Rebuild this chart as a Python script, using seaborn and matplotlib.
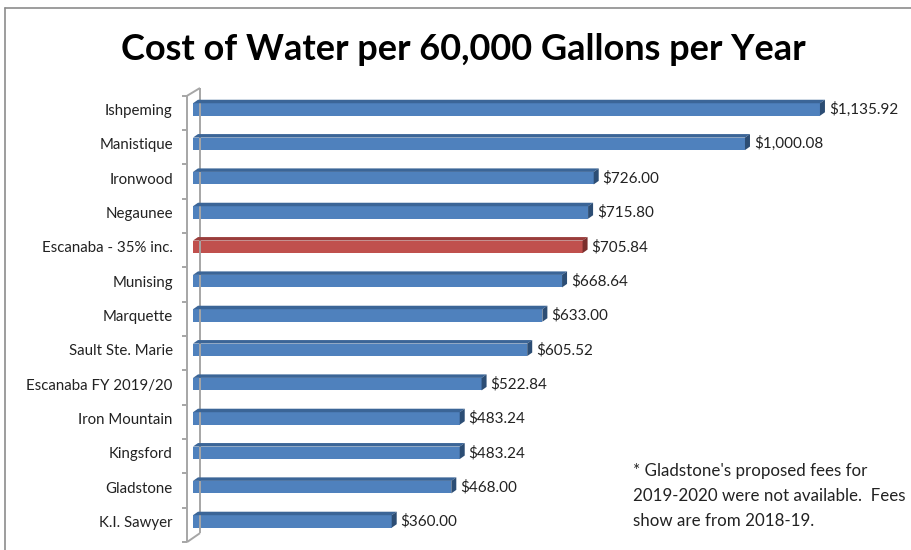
import matplotlib
matplotlib.use("Agg")
import matplotlib.pyplot as plt
import seaborn as sns
import pandas as pd
from matplotlib.patches import Polygon
from matplotlib.lines import Line2D

cities = ["Ishpeming", "Manistique", "Ironwood", "Negaunee", "Escanaba - 35% inc.",
          "Munising", "Marquette", "Sault Ste. Marie", "Escanaba FY 2019/20",
          "Iron Mountain", "Kingsford", "Gladstone", "K.I. Sawyer"]
costs = [1135.92, 1000.08, 726.00, 715.80, 705.84, 668.64, 633.00, 605.52,
         522.84, 483.24, 483.24, 468.00, 360.00]
highlight = "Escanaba - 35% inc."
title = "Cost of Water per 60,000 Gallons per Year"
note = "* Gladstone's proposed fees for\n2019-2020 were not available.  Fees\nshow are from 2018-19."

df = pd.DataFrame({"city": cities, "cost": costs})
df["grp"] = ["hi" if c == highlight else "base" for c in cities]

sns.set_theme(style="white")
plt.rcParams["font.family"] = ["Lato", "DejaVu Sans"]

W, H = 912, 550
fig = plt.figure(figsize=(W / 100, H / 100), dpi=100)
ax_left, ax_right, ax_top, ax_bot = 193, 905, 88, 537
ax = fig.add_axes([ax_left / W, 1 - ax_bot / H, (ax_right - ax_left) / W, (ax_bot - ax_top) / H])

front = {"base": "#4F81BD", "hi": "#C0504D"}
topc = {"base": "#3B6597", "hi": "#9A3D3B"}
sidec = {"base": "#2C4D74", "hi": "#7A2E2C"}

first_c, step = 109.5, 34.33
ymin = (ax_top - first_c) / step
ymax = (ax_bot - first_c) / step
xmax = 1290
px_x = xmax / (ax_right - ax_left)
px_y = (ymax - ymin) / (ax_bot - ax_top)

sns.barplot(data=df, y="city", x="cost", hue="grp", palette=front, orient="h",
            width=12.5 * px_y, dodge=False, legend=False, ax=ax, saturation=1)

ax.set_xlim(0, xmax)
ax.set_ylim(ymax, ymin)
dx, dy = 5 * px_x, 3.5 * px_y

for patch in ax.patches:
    w = patch.get_width()
    if w <= 0:
        continue
    y0 = patch.get_y()
    h = patch.get_height()
    yc = y0 + h / 2
    idx = int(round(yc))
    g = df["grp"].iloc[idx]
    patch.set_edgecolor("none")
    top = y0
    ax.add_patch(Polygon([(0, top), (dx, top - dy), (w + dx, top - dy), (w, top)],
                         closed=True, facecolor=topc[g], edgecolor="none", zorder=3))
    ax.add_patch(Polygon([(w, top), (w + dx, top - dy), (w + dx, top + h - dy), (w, top + h)],
                         closed=True, facecolor=sidec[g], edgecolor="none", zorder=3))
    ax.text(w + dx + 4 * px_x, yc, "${:,.2f}".format(costs[idx]),
            va="center", ha="left", fontsize=11, color="#222222")

# 3D wall lines
lc = "#A6A6A6"
fx, bx = -6 * px_x, 7 * px_x
top_front = -0.5 + 3.5 * px_y
bot_front = 12.5 + 3.5 * px_y
top_back = ymin
bot_back = bot_front - 9 * px_y
kw = dict(color=lc, lw=1.4, clip_on=False, zorder=1, solid_capstyle="butt")
ax.plot([bx, bx], [top_back, bot_back], **kw)
ax.plot([bx, fx], [bot_back, bot_front], **kw)
ax.plot([bx, fx], [top_back, top_front], **kw)
ax.plot([fx, fx], [top_front, bot_front], **kw)
for b in range(0, 14):
    yb = b - 0.5 + 3.5 * px_y
    ax.plot([fx - 5 * px_x, fx], [yb, yb], **kw)

for s in ax.spines.values():
    s.set_visible(False)
ax.set_xticks([])
ax.set_xlabel("")
ax.set_ylabel("")
ax.tick_params(axis="y", length=0, pad=14.5, labelsize=10.8, labelcolor="#222222")
for lab in ax.get_yticklabels():
    lab.set_y(lab.get_position()[1])

fig.text(463 / W, 1 - 50 / H, title, ha="center", va="center", fontsize=26,
         fontweight="bold", color="black")
fig.text(633 / W, 1 - 496 / H, note, ha="left", va="center", fontsize=12.2,
         color="#222222", linespacing=1.72)

fig.add_artist(Line2D([5 / W, 5 / W], [0, 1 - 8 / H], color="#8C8C8C", lw=1.2))
fig.add_artist(Line2D([5 / W, 1], [1 - 8 / H, 1 - 8 / H], color="#8C8C8C", lw=1.2))

fig.savefig("out.png", dpi=100)
